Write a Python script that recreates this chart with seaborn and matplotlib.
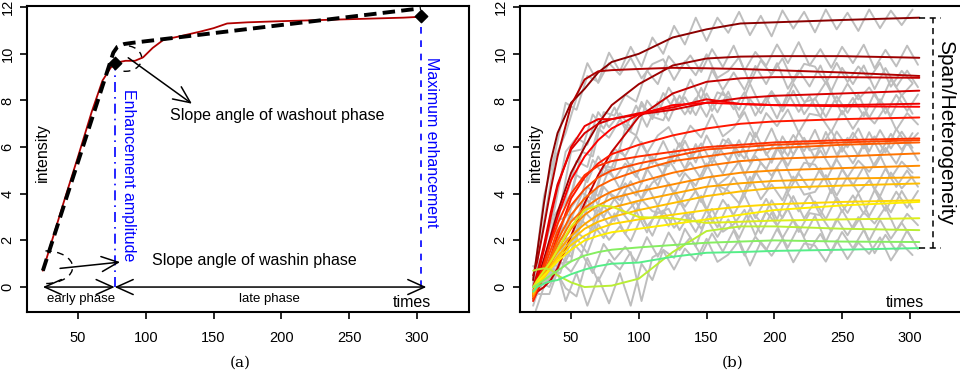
import pandas as pd
import matplotlib
matplotlib.use("Agg")
import matplotlib.pyplot as plt
from matplotlib.patches import Arc
from matplotlib.colors import LinearSegmentedColormap
import seaborn as sns

# ---------------- panel (a): one kinetic curve with its descriptors
curve_t = [24, 30, 40, 50, 60, 68, 74, 78, 85, 92, 98, 105, 113, 125, 140, 150,
           160, 175, 200, 230, 260, 290, 307]
curve_y = [0.7, 1.85, 3.75, 5.6, 7.5, 8.85, 9.4, 9.62, 9.7, 9.7, 9.85, 10.25, 10.6,
           10.75, 10.95, 11.1, 11.3, 11.35, 11.4, 11.45, 11.5, 11.55, 11.6]
fit_t = [24, 76, 79, 84, 90, 303]
fit_y = [0.7, 10.05, 10.3, 10.42, 10.47, 11.95]
peak_t, peak_y = 77.3, 9.6
max_t, max_y = 303, 11.6
phase_start, phase_split, phase_end = 24, 77, 307

# ---------------- panel (b): smoothed curves and raw signals
smooth_times = [22, 25, 30, 35, 40, 50, 60, 70, 80, 100, 125, 150, 175, 200, 250, 307]
smooth_curves = [
    [0.3, 1.5, 3.6, 5.4, 6.6, 7.9, 8.5, 9.2, 9.65, 10.0, 10.7, 11.05, 11.3, 11.35, 11.45, 11.55],
    [-0.3, 0.3, 1.2, 2.2, 3.2, 4.9, 6.0, 7.0, 7.8, 8.7, 9.5, 9.8, 9.88, 9.9, 9.9, 9.83],
    [0.5, 1.1, 2.6, 4.2, 5.6, 7.8, 8.9, 9.25, 9.3, 9.35, 9.4, 9.38, 9.35, 9.3, 9.2, 9.05],
    [-0.5, -0.2, 0.0, 0.3, 0.8, 2.2, 3.6, 4.8, 5.8, 7.3, 8.3, 8.8, 8.95, 9.0, 9.0, 8.97],
    [0.0, 0.6, 1.8, 3.2, 4.4, 5.9, 6.6, 7.0, 7.2, 7.4, 7.6, 7.9, 8.1, 8.2, 8.3, 8.42],
    [-0.2, 0.4, 1.6, 3.0, 4.3, 6.0, 6.9, 7.2, 7.2, 7.45, 7.7, 8.05, 7.85, 7.8, 7.8, 7.86],
    [-0.4, 0.1, 1.0, 2.0, 3.0, 4.6, 5.6, 6.3, 6.8, 7.4, 7.8, 7.9, 7.85, 7.8, 7.75, 7.73],
    [-0.6, -0.2, 0.5, 1.3, 2.2, 3.8, 4.7, 5.3, 5.7, 6.1, 6.5, 6.8, 7.0, 7.1, 7.2, 7.27],
    [-0.3, 0.2, 1.0, 1.9, 2.7, 4.0, 4.8, 5.2, 5.4, 5.6, 5.8, 6.0, 6.1, 6.2, 6.3, 6.37],
    [-0.5, 0.0, 0.8, 1.6, 2.4, 3.5, 4.2, 4.7, 5.0, 5.3, 5.6, 5.9, 6.0, 6.1, 6.2, 6.3],
    [-0.4, 0.0, 0.6, 1.3, 2.0, 3.1, 3.8, 4.3, 4.6, 5.0, 5.4, 5.6, 5.8, 5.95, 6.1, 6.2],
    [-0.3, 0.1, 0.6, 1.2, 1.8, 2.8, 3.4, 3.8, 4.1, 4.5, 4.9, 5.2, 5.4, 5.5, 5.6, 5.73],
    [-0.4, 0.0, 0.5, 1.0, 1.6, 2.5, 3.1, 3.5, 3.8, 4.1, 4.4, 4.7, 4.9, 5.0, 5.1, 5.2],
    [-0.2, 0.2, 0.6, 1.1, 1.5, 2.2, 2.7, 3.1, 3.4, 3.7, 4.0, 4.3, 4.45, 4.55, 4.65, 4.7],
    [-0.3, 0.1, 0.4, 0.9, 1.3, 2.0, 2.5, 2.8, 3.0, 3.3, 3.6, 3.9, 4.1, 4.25, 4.35, 4.44],
    [-0.2, 0.1, 0.4, 0.8, 1.2, 1.8, 2.2, 2.5, 2.7, 2.9, 3.1, 3.3, 3.45, 3.55, 3.65, 3.72],
    [0.0, 0.2, 0.5, 0.8, 1.1, 1.6, 2.0, 2.2, 2.35, 2.5, 2.7, 2.9, 3.1, 3.3, 3.5, 3.65],
    [0.0, 0.3, 0.7, 1.1, 1.6, 2.6, 3.3, 3.5, 3.45, 3.0, 2.95, 2.75, 2.8, 2.85, 2.9, 2.95],
    [0.7, 0.75, 0.8, 0.75, 0.5, 0.2, 0.0, 0.03, 0.06, 0.36, 1.5, 2.4, 2.6, 2.6, 2.5, 2.44],
    [0.0, 0.1, 0.3, 0.5, 0.7, 1.1, 1.35, 1.5, 1.6, 1.7, 1.8, 1.9, 1.95, 2.0, 1.95, 1.93],
    [-0.2, 0.0, 0.15, 0.25, 0.3, 0.55, 0.75, 0.9, 1.0, 1.05, 1.3, 1.47, 1.5, 1.55, 1.6, 1.67],
]

# raw signals are sampled on two interleaved time grids
raw_times_a = [22, 30, 38, 46, 54, 62, 70, 78, 86, 94, 102, 110, 118, 126, 134, 142, 150, 158,
               166, 174, 182, 190, 198, 206, 214, 222, 230, 238, 246, 254, 262, 270, 278, 286, 294, 302]
raw_times_b = [24, 34, 42, 50, 58, 66, 74, 82, 90, 98, 106, 114, 122, 130, 138, 146, 154, 162,
               170, 178, 186, 194, 202, 210, 218, 226, 234, 242, 250, 258, 266, 274, 282, 290, 298, 306]
raw_curves = [
    [0.1, 3.9, 5.7, 7.9, 7.6, 9.05, 8.8, 10.05, 9.25, 10.3, 9.45, 10.7, 10.0, 11.2, 10.4, 11.55, 10.55, 11.55,
     10.9, 11.8, 10.8, 11.63, 10.75, 11.86, 11.08, 11.8, 10.92, 11.9, 11.05, 11.76, 10.98, 11.9, 11.1, 11.85, 11.23, 11.9],
    [0.0, 0.9, 3.3, 4.0, 5.8, 5.6, 7.5, 7.35, 8.25, 7.95, 9.28, 8.7, 9.9, 9.32, 9.93, 9.22, 10.2, 9.43,
     10.35, 9.27, 10.08, 9.49, 10.4, 9.6, 10.5, 9.5, 10.2, 9.4, 10.3, 9.6, 10.39, 9.38, 10.17, 9.46, 10.35, 9.53],
    [0.1, 2.8, 5.5, 6.6, 8.1, 9.6, 8.75, 9.6, 9.1, 9.83, 8.95, 9.56, 9.77, 8.88, 9.68, 9.08, 9.98, 8.97,
     9.26, 9.85, 8.74, 9.72, 9.11, 9.8, 8.79, 9.57, 9.45, 8.73, 9.61, 8.79, 9.46, 8.93, 9.61, 8.59, 9.27, 8.75],
    [-0.3, -0.3, 1.0, 1.1, 3.3, 3.5, 5.2, 5.1, 6.8, 6.5, 8.0, 7.4, 8.55, 7.8, 8.9, 8.05, 9.3, 8.45,
     9.2, 8.45, 9.48, 8.7, 9.6, 8.5, 9.3, 8.6, 9.5, 8.4, 9.4, 8.7, 9.5, 8.49, 9.39, 8.58, 9.28, 8.57],
    [0.4, 1.6, 3.4, 5.8, 6.4, 6.1, 7.5, 6.85, 7.45, 6.85, 7.8, 7.3, 7.15, 8.1, 7.4, 8.1, 7.3, 8.35,
     8.15, 7.6, 8.72, 7.75, 8.4, 7.7, 8.72, 7.94, 8.06, 8.78, 7.9, 8.72, 8.04, 8.56, 7.88, 8.9, 8.21, 8.72],
    [-0.4, 1.9, 3.4, 5.8, 5.9, 7.4, 6.8, 7.7, 6.77, 7.78, 6.87, 7.95, 7.13, 8.21, 7.43, 8.54, 7.55, 8.38,
     7.62, 8.36, 7.35, 8.14, 7.23, 8.32, 7.51, 8.2, 7.3, 8.4, 7.4, 8.11, 7.32, 8.33, 7.44, 8.24, 7.55, 8.26],
    [-0.1, 0.7, 3.1, 3.8, 5.4, 5.15, 6.8, 6.4, 7.18, 6.72, 7.94, 7.2, 8.32, 7.6, 8.14, 7.37, 8.3, 7.49,
     8.38, 7.27, 8.06, 7.45, 8.34, 7.53, 8.42, 7.41, 8.1, 7.29, 8.18, 7.47, 8.26, 7.26, 8.05, 7.34, 8.24, 7.43],
    [-1.0, 0.7, 2.35, 2.9, 4.0, 5.45, 4.8, 5.92, 5.62, 6.48, 5.74, 6.5, 6.86, 6.01, 6.92, 6.41, 7.4, 6.46,
     6.83, 7.5, 6.42, 7.46, 6.9, 7.61, 6.62, 7.43, 7.34, 6.65, 7.56, 6.78, 7.5, 7.01, 7.73, 6.74, 7.46, 6.97],
    [-0.1, 0.7, 2.8, 3.0, 4.8, 4.5, 5.6, 4.86, 5.96, 5.14, 6.22, 5.29, 6.26, 5.31, 6.27, 5.34, 6.5, 5.63,
     6.36, 5.6, 6.63, 5.86, 6.8, 5.71, 6.52, 5.83, 6.74, 5.66, 6.67, 5.99, 6.8, 5.81, 6.73, 5.94, 6.66, 5.97],
    [-0.1, 0.6, 1.6, 3.4, 4.05, 3.75, 5.2, 4.64, 5.3, 4.72, 5.74, 5.26, 5.18, 6.17, 5.47, 6.16, 5.3, 6.33,
     6.06, 5.5, 6.62, 5.66, 6.3, 5.62, 6.64, 5.86, 5.98, 6.7, 5.8, 6.62, 5.94, 6.46, 5.77, 6.78, 6.09, 6.6],
    [-0.6, 0.9, 1.3, 3.15, 2.85, 4.3, 3.9, 5.05, 4.22, 5.28, 4.43, 5.58, 4.8, 5.9, 5.07, 6.13, 5.1, 6.06,
     5.43, 6.3, 5.34, 6.17, 5.33, 6.46, 5.69, 6.4, 5.53, 6.65, 5.67, 6.4, 5.62, 6.64, 5.75, 6.57, 5.88, 6.6],
    [0.0, 0.3, 2.05, 2.1, 3.35, 2.85, 4.3, 3.75, 4.45, 3.92, 5.08, 4.34, 5.47, 4.74, 5.34, 4.63, 5.6, 4.86,
     5.83, 4.8, 5.62, 5.05, 5.98, 5.2, 6.12, 5.14, 5.86, 5.08, 5.99, 5.3, 6.12, 5.14, 5.97, 5.29, 6.21, 5.43],
    [-0.8, 0.7, 1.8, 1.65, 2.45, 3.75, 3.0, 4.05, 3.72, 4.54, 3.76, 4.48, 4.79, 3.99, 4.88, 4.34, 5.3, 4.36,
     4.73, 5.39, 4.32, 5.34, 4.77, 5.5, 4.52, 5.33, 5.25, 4.56, 5.48, 4.7, 5.42, 4.94, 5.65, 4.67, 5.38, 4.9],
    [0.0, 0.3, 1.65, 1.3, 2.85, 2.4, 3.5, 2.84, 4.02, 3.24, 4.36, 3.48, 4.48, 3.55, 4.55, 3.64, 4.8, 3.95,
     4.7, 3.94, 4.97, 4.2, 5.13, 4.05, 4.87, 4.19, 5.1, 4.02, 5.04, 4.35, 5.16, 4.17, 5.08, 4.29, 5.0, 4.3],
    [0.1, 0.2, 0.55, 2.0, 2.35, 2.0, 3.3, 2.66, 3.32, 2.74, 3.75, 3.25, 3.15, 4.14, 3.44, 4.13, 3.3, 4.36,
     4.13, 3.59, 4.73, 3.76, 4.4, 3.72, 4.74, 3.96, 4.08, 4.8, 3.92, 4.74, 4.05, 4.57, 3.89, 4.91, 4.23, 4.74],
    [-0.4, 0.7, 0.6, 2.0, 1.45, 2.7, 2.1, 3.16, 2.28, 3.26, 2.34, 3.42, 2.6, 3.68, 2.86, 3.92, 2.8, 3.74,
     3.1, 3.94, 2.96, 3.78, 2.9, 4.02, 3.24, 3.96, 3.08, 4.2, 3.22, 3.93, 3.14, 4.16, 3.27, 4.09, 3.4, 4.12],
    [0.3, 0.2, 1.45, 1.1, 2.1, 1.45, 2.7, 2.02, 2.6, 1.96, 3.02, 2.2, 3.28, 2.54, 3.12, 2.36, 3.3, 2.56,
     3.53, 2.49, 3.34, 2.78, 3.72, 2.96, 3.9, 2.94, 3.67, 2.91, 3.84, 3.18, 4.01, 3.04, 3.87, 3.2, 4.12, 3.35],
    [-0.4, 0.9, 1.85, 1.8, 2.75, 4.0, 3.0, 3.78, 3.15, 3.67, 2.6, 3.18, 3.36, 2.44, 3.18, 2.5, 3.35, 2.37,
     2.69, 3.31, 2.22, 3.23, 2.64, 3.35, 2.36, 3.17, 3.08, 2.39, 3.3, 2.5, 3.21, 2.72, 3.43, 2.43, 3.14, 2.65],
    [0.9, 0.5, 1.1, -0.6, 0.6, -0.8, 0.42, -0.7, 0.6, -0.8, 1.0, 0.3, 1.6, 1.25, 2.5, 1.75, 2.95, 2.15,
     2.9, 2.1, 3.1, 2.3, 3.2, 2.1, 2.89, 2.18, 3.06, 1.94, 2.93, 2.22, 3.0, 1.99, 2.88, 2.07, 2.76, 2.04],
    [0.3, 0.0, 1.1, 0.65, 1.42, 0.6, 1.85, 1.17, 1.73, 1.08, 2.14, 1.3, 2.34, 1.58, 2.12, 1.36, 2.3, 1.52,
     2.43, 1.35, 2.16, 1.58, 2.49, 1.7, 2.6, 1.59, 2.28, 1.47, 2.36, 1.66, 2.45, 1.45, 2.24, 1.54, 2.43, 1.63],
    [-0.6, 0.35, 0.77, -0.05, -0.4, 1.25, 0.25, 1.17, 0.75, 1.5, -0.6, 1.27, 1.55, 0.75, 1.65, 1.13, 2.07, 1.08,
     1.39, 2.0, 0.92, 1.93, 1.34, 2.05, 1.06, 1.87, 1.78, 1.09, 2.0, 1.2, 1.91, 1.42, 2.13, 1.14, 1.85, 1.37],
]
span_top, span_bottom = 11.55, 1.67

smooth_df = pd.DataFrame(
    [(i, t, v) for i, c in enumerate(smooth_curves) for t, v in zip(smooth_times, c)],
    columns=["curve", "time", "intensity"])
raw_rows = []
for i, c in enumerate(raw_curves):
    grid = raw_times_a if i % 2 == 0 else raw_times_b
    raw_rows += [(i, t, v) for t, v in zip(grid, c)]
raw_df = pd.DataFrame(raw_rows, columns=["curve", "time", "intensity"])

cmap = LinearSegmentedColormap.from_list(
    "kin", [(0, "#8B0000"), (0.3, "#FF0000"), (0.6, "#FF8C00"), (0.8, "#FFEE00"),
            (0.9, "#BBEE33"), (1.0, "#55EE88")])
order = sorted(range(len(smooth_curves)), key=lambda i: -smooth_curves[i][-1])
palette = {}
for rank, i in enumerate(order):
    palette[i] = cmap(rank / (len(order) - 1))

sns.set_theme(style="ticks")
plt.rcParams["font.family"] = ["Liberation Sans", "DejaVu Sans"]
plt.rcParams["text.color"] = "black"
plt.rcParams["xtick.color"] = "black"
plt.rcParams["ytick.color"] = "black"
plt.rcParams["xtick.labelcolor"] = "black"
plt.rcParams["ytick.labelcolor"] = "black"

fig = plt.figure(figsize=(9.6, 3.8), dpi=100)
ax1 = fig.add_axes([27 / 960, 68 / 380, 442 / 960, 306 / 380])
ax2 = fig.add_axes([520 / 960, 68 / 380, 442 / 960, 306 / 380])

for ax in (ax1, ax2):
    ax.set_xlim(12.3, 338.5)
    ax.set_ylim(-1.07, 12.05)
    ax.set_xticks([50, 100, 150, 200, 250, 300])
    ax.set_yticks([0, 2, 4, 6, 8, 10, 12])
    ax.tick_params(direction="out", length=5, width=1.2, labelsize=10.5,
                   color="black", labelcolor="black")
    ax.tick_params(axis="x", pad=9)
    ax.tick_params(axis="y", pad=4, labelrotation=90)
    for lab in ax.get_yticklabels():
        lab.set_va("center")
    for s in ax.spines.values():
        s.set_linewidth(1.5)
        s.set_color("black")
    ax.text(24, 5.75, "intensity", rotation=90, ha="center", va="center", fontsize=11.5)
    ax.text(296, -0.65, "times", ha="center", va="center", fontsize=11.5)

# ---- panel (a)
sns.lineplot(x=curve_t, y=curve_y, ax=ax1, color="#B00000", lw=1.3, sort=False)
sns.lineplot(x=fit_t, y=fit_y, ax=ax1, color="black", lw=2.8, sort=False,
             linestyle=(0, (3.2, 1.6)))
ax1.plot([peak_t, peak_t], [0, peak_y], color="blue", lw=1.2, linestyle=(0, (6, 3, 1, 3)))
ax1.plot([max_t, max_t], [0, max_y], color="blue", lw=1.2, linestyle=(0, (4, 4)))
ax1.scatter([peak_t, max_t], [peak_y, max_y], marker="D", s=40, color="black", zorder=5)

ax1.add_patch(Arc((26, 0.85), 40, 1.4, theta1=-55, theta2=95, color="black",
                  lw=1.0, linestyle=(0, (5, 4))))
ax1.add_patch(Arc((85, 9.8), 24, 1.1, theta1=200, theta2=380, color="black",
                  lw=1.0, linestyle=(0, (5, 4))))

arrow = dict(arrowstyle="->,head_length=1.0,head_width=0.45", color="black", lw=1.1,
             shrinkA=0, shrinkB=0)
ax1.annotate("", xy=(134, 7.86), xytext=(87, 9.83), arrowprops=arrow)
ax1.annotate("", xy=(81, 1.07), xytext=(36.7, 0.8), arrowprops=arrow)
ax1.text(118, 7.35, "Slope angle of washout phase", ha="left", va="center", fontsize=11.5)
ax1.text(104.5, 1.15, "Slope angle of washin phase", ha="left", va="center", fontsize=11.5)

both = dict(arrowstyle="<->,head_length=1.0,head_width=0.45", color="black", lw=1.1,
            shrinkA=0, shrinkB=0)
ax1.annotate("", xy=(phase_split, 0), xytext=(phase_start, 0), arrowprops=both)
ax1.annotate("", xy=(phase_end, 0), xytext=(phase_split, 0), arrowprops=both)
ax1.text((phase_start + phase_split) / 2 + 2, -0.52, "early phase", ha="center", va="center",
         fontsize=9.5)
ax1.text(191.5, -0.52, "late phase", ha="center", va="center", fontsize=9.5)

ax1.text(87, 4.8, "Enhancement amplitude", rotation=-90, ha="center", va="center",
         color="blue", fontsize=11.5)
ax1.text(310.5, 6.2, "Maximum enhancement", rotation=-90, ha="center", va="center",
         color="blue", fontsize=11.5)

# ---- panel (b)
sns.lineplot(data=raw_df, x="time", y="intensity", units="curve", estimator=None,
             color="#BEBEBE", lw=1.4, ax=ax2)
sns.lineplot(data=smooth_df, x="time", y="intensity", hue="curve", palette=palette,
             estimator=None, lw=1.4, legend=False, ax=ax2)
ax2.plot([307, 323], [span_top, span_top], color="black", lw=1.1, linestyle=(0, (4, 3)))
ax2.plot([307, 323], [span_bottom, span_bottom], color="black", lw=1.1, linestyle=(0, (4, 3)))
ax2.plot([317, 317], [span_bottom, span_top], color="black", lw=1.1, linestyle=(0, (4, 3)))
ax2.text(326, (span_top + span_bottom) / 2, "Span/Heterogeneity", rotation=-90,
         ha="center", va="center", fontsize=15)

for ax in (ax1, ax2):
    ax.set_xlabel("")
    ax.set_ylabel("")

fig.text(240 / 960, 1 - 363 / 380, "(a)", ha="center", va="center", fontsize=11,
         family="DejaVu Serif")
fig.text(733 / 960, 1 - 363 / 380, "(b)", ha="center", va="center", fontsize=11,
         family="DejaVu Serif")

fig.savefig("out.png", dpi=100)
